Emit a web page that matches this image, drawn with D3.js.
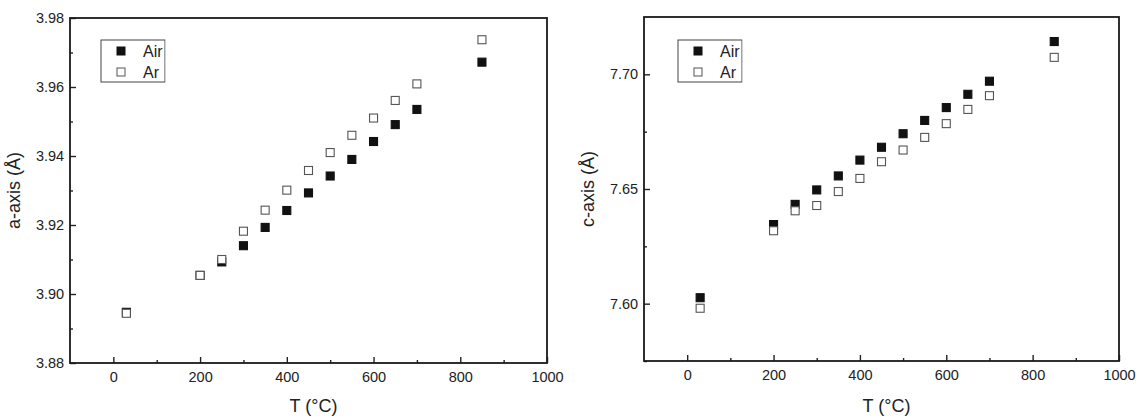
<!DOCTYPE html>
<html><head><meta charset="utf-8">
<script src="https://cdn.jsdelivr.net/npm/d3@7"></script>
<style>body{margin:0;background:#fff}text{font-family:"Liberation Sans",Arial,sans-serif;fill:#222}</style>
</head><body>
<script>
// temperatures (°C)
const tempsAir = [30, 200, 250, 300, 350, 400, 450, 500, 550, 600, 650, 700, 850];
const tempsAr  = [30, 200, 250, 300, 350, 400, 450, 500, 550, 600, 650, 700, 850];
// a-axis (Å)
const aAir = [3.8947, 3.9054, 3.9093, 3.914, 3.9193, 3.9242, 3.9293, 3.9342, 3.939, 3.9442, 3.9491, 3.9535, 3.9672];
const aAr  = [3.8944, 3.9054, 3.91, 3.9182, 3.9243, 3.9301, 3.9358, 3.941, 3.946, 3.951, 3.9561, 3.9609, 3.9737];
// c-axis (Å)
const cAir = [7.6026, 7.6345, 7.6433, 7.6496, 7.6557, 7.6626, 7.6682, 7.6741, 7.6799, 7.6855, 7.6913, 7.697, 7.7143];
const cAr  = [7.598, 7.6318, 7.6405, 7.6428, 7.6489, 7.6546, 7.6619, 7.667, 7.6725, 7.6785, 7.6847, 7.6907, 7.7074];
const xTicks = [0, 200, 400, 600, 800, 1000];
const aTicks = [3.88, 3.90, 3.92, 3.94, 3.96, 3.98];
const cTicks = [7.60, 7.65, 7.70];

const svg = d3.select('body').append('svg').attr('width', 1136).attr('height', 419);

function panel(o) {
  const x = d3.scaleLinear().domain([-100, 1000]).range([o.left, o.right]);
  const y = d3.scaleLinear().domain(o.ydom).range([o.bottom, o.top]);
  const g = svg.append('g');

  // x axis ticks (inward)
  const xa = g.append('g').attr('transform', `translate(0,${o.bottom})`)
    .call(d3.axisBottom(x).tickValues(xTicks).tickSize(-6).tickFormat(d3.format('d')));
  g.append('g').attr('transform', `translate(0,${o.bottom})`)
    .call(d3.axisBottom(x).tickValues(d3.range(100, 1000, 200)).tickSize(-3).tickFormat(''));
  const ya = g.append('g').attr('transform', `translate(${o.left},0)`)
    .call(d3.axisLeft(y).tickValues(o.yticks).tickSize(-6).tickFormat(d3.format('.2f')));
  g.append('g').attr('transform', `translate(${o.left},0)`)
    .call(d3.axisLeft(y).tickValues(o.minor).tickSize(-3).tickFormat(''));
  g.selectAll('.domain').remove();
  g.selectAll('.tick line').attr('stroke', '#222').attr('stroke-width', 1.4);
  g.selectAll('.tick text').attr('font-size', 14.5).style('font-family', '"Liberation Sans",Arial,sans-serif').attr('fill', '#222');
  xa.selectAll('.tick text').attr('dy', '1.1em');
  ya.selectAll('.tick text').attr('dx', '-0.2em');

  g.append('rect').attr('x', o.left).attr('y', o.top)
    .attr('width', o.right - o.left).attr('height', o.bottom - o.top)
    .attr('fill', 'none').attr('stroke', '#1a1a1a').attr('stroke-width', 1.8);

  g.append('text').attr('x', (o.left + o.right) / 2 + 5).attr('y', 412)
    .attr('text-anchor', 'middle').attr('font-size', 18).text('T (°C)');
  g.append('text').attr('transform', `translate(${o.left - 50},${(o.top + o.bottom) / 2}) rotate(-90)`)
    .attr('text-anchor', 'middle').attr('font-size', 18).text(o.ylabel);

  const s = 8;
  const series = [
    {t: o.t1, v: o.v1, fill: '#111', stroke: '#111', name: 'Air'},
    {t: o.t2, v: o.v2, fill: '#fff', stroke: '#555', name: 'Ar'}
  ];
  series.forEach(sr => {
    g.selectAll(null).data(sr.v).join('rect')
      .attr('x', (d, i) => x(sr.t[i]) - s / 2).attr('y', d => y(d) - s / 2)
      .attr('width', s).attr('height', s)
      .attr('fill', sr.fill).attr('stroke', sr.stroke).attr('stroke-width', 1.1);
  });

  // legend
  const lg = g.append('g');
  series.forEach((sr, i) => {
    const cy = o.legY + 11 + i * 21;
    lg.append('rect').attr('x', o.legX + 20 - s / 2).attr('y', cy - s / 2).attr('width', s).attr('height', s)
      .attr('fill', sr.fill).attr('stroke', sr.stroke);
    lg.append('text').attr('x', o.legX + 42).attr('y', cy + 6).attr('font-size', 16).text(sr.name);
  });
  lg.append('rect').attr('x', o.legX).attr('y', o.legY).attr('width', 64).attr('height', 42)
    .attr('fill', 'none').attr('stroke', '#444').attr('stroke-width', 1);
  lg.append('rect').attr('x', o.legX + 64.5).attr('y', o.legY - 1).attr('width', 6).attr('height', 44).attr('fill', '#fff');
}

panel({left: 70, right: 547, top: 18, bottom: 363, ydom: [3.88, 3.98], yticks: aTicks,
  minor: d3.range(3.89, 3.98, 0.02), ylabel: 'a-axis (Å)', t1: tempsAir, v1: aAir, t2: tempsAr, v2: aAr, legX: 101, legY: 40});
panel({left: 644, right: 1119, top: 17, bottom: 361, ydom: [7.575, 7.725], yticks: cTicks,
  minor: [7.575, 7.625, 7.675], ylabel: 'c-axis (Å)', t1: tempsAir, v1: cAir, t2: tempsAr, v2: cAr, legX: 678, legY: 40});
</script>
</body></html>
